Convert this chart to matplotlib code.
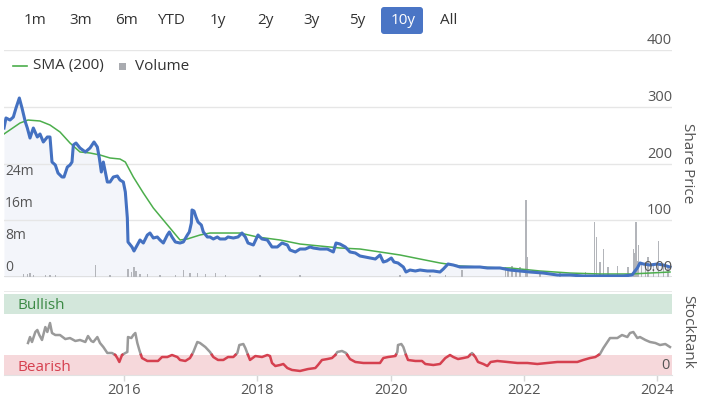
import numpy as np
import matplotlib
matplotlib.use("Agg")
import matplotlib.pyplot as plt
from matplotlib.patches import FancyBboxPatch, Rectangle
from matplotlib.lines import Line2D
from matplotlib.transforms import IdentityTransform, blended_transform_factory, offset_copy

plt.rcParams["font.family"] = ["Open Sans", "DejaVu Sans"]

# ---- data (decimal years) ----
price_years = [2014.20, 2014.23, 2014.29, 2014.34, 2014.38, 2014.43, 2014.47, 2014.52, 2014.55, 2014.59,
               2014.64, 2014.70, 2014.74, 2014.79, 2014.85, 2014.89, 2014.92, 2014.97, 2015.01, 2015.07,
               2015.10, 2015.15, 2015.19, 2015.22, 2015.24, 2015.28, 2015.34, 2015.42, 2015.49, 2015.55,
               2015.60, 2015.63, 2015.66, 2015.69, 2015.75, 2015.79, 2015.84, 2015.90, 2015.94, 2015.99,
               2016.02, 2016.05, 2016.06, 2016.12, 2016.15, 2016.20, 2016.24, 2016.29, 2016.35, 2016.39,
               2016.44, 2016.50, 2016.54, 2016.59, 2016.65, 2016.68, 2016.72, 2016.77, 2016.84, 2016.89,
               2016.95, 2016.98, 2017.01, 2017.02, 2017.05, 2017.08, 2017.11, 2017.16, 2017.19, 2017.25,
               2017.29, 2017.34, 2017.40, 2017.44, 2017.52, 2017.56, 2017.64, 2017.71, 2017.77, 2017.82,
               2017.86, 2017.94, 2018.01, 2018.07, 2018.15, 2018.22, 2018.30, 2018.37, 2018.45, 2018.49,
               2018.57, 2018.64, 2018.72, 2018.79, 2018.84, 2018.94, 2019.05, 2019.14, 2019.18, 2019.24,
               2019.32, 2019.39, 2019.47, 2019.54, 2019.62, 2019.69, 2019.77, 2019.84, 2019.89, 2019.94,
               2020.01, 2020.05, 2020.11, 2020.19, 2020.23, 2020.29, 2020.37, 2020.44, 2020.55, 2020.64,
               2020.74, 2020.79, 2020.86, 2020.94, 2021.04, 2021.15, 2021.24, 2021.34, 2021.45, 2021.54,
               2021.64, 2021.79, 2021.94, 2022.09, 2022.29, 2022.50, 2022.69, 2022.89, 2023.10, 2023.29,
               2023.49, 2023.62, 2023.70, 2023.74, 2023.79, 2023.89, 2024.00, 2024.09, 2024.19]
share_price = [262.5, 280.2, 276.6, 281.9, 297.8, 315.4, 297.8, 273.1, 262.5, 244.9,
               262.5, 246.7, 252.0, 237.9, 246.7, 246.7, 202.6, 197.3, 183.2, 176.2,
               176.2, 193.8, 197.3, 202.6, 232.6, 236.1, 227.3, 220.3, 227.3, 237.9,
               229.1, 209.7, 185.0, 202.6, 167.4, 167.4, 176.2, 178.0, 170.9, 167.4,
               149.8, 104.0, 61.7, 52.9, 45.8, 56.4, 65.2, 59.9, 74.0, 77.5,
               68.7, 70.5, 65.2, 59.9, 74.0, 79.3, 70.5, 61.7, 59.9, 61.7,
               74.0, 79.3, 95.1, 118.1, 116.3, 105.7, 96.9, 91.6, 79.3, 70.5,
               70.5, 67.0, 70.5, 67.0, 67.0, 70.5, 68.7, 70.5, 77.5, 70.5,
               59.9, 56.4, 74.0, 67.0, 65.2, 52.9, 52.9, 59.9, 56.4, 47.6,
               44.1, 49.3, 49.3, 52.9, 51.1, 49.3, 49.3, 44.1, 59.9, 58.1,
               52.9, 44.1, 42.3, 37.0, 35.2, 33.5, 31.7, 38.8, 26.4, 28.2,
               33.5, 26.4, 24.7, 17.6, 8.8, 12.3, 10.6, 12.3, 10.6, 10.6,
               8.8, 14.1, 22.9, 21.1, 17.6, 17.6, 17.6, 17.6, 15.9, 15.9,
               15.9, 12.3, 10.6, 8.8, 7.0, 3.5, 3.5, 1.8, 1.8, 1.8,
               1.8, 3.5, 15.9, 24.7, 22.9, 21.1, 22.9, 21.1, 17.6]

sma_years = [2014.20, 2014.44, 2014.56, 2014.74, 2014.89, 2015.04, 2015.19, 2015.34, 2015.49, 2015.64,
             2015.79, 2015.94, 2016.02, 2016.14, 2016.29, 2016.44, 2016.59, 2016.74, 2016.84, 2016.95,
             2017.14, 2017.29, 2017.74, 2018.00, 2018.34, 2018.64, 2018.94, 2019.24, 2019.54, 2019.84,
             2020.14, 2020.44, 2020.74, 2021.04, 2021.34, 2021.64, 2021.79, 2022.24, 2022.69, 2023.14,
             2023.59, 2023.89, 2024.19]
sma_200 = [252.0, 271.3, 276.6, 274.9, 267.8, 255.5, 236.1, 220.3, 218.5, 215.0,
           209.7, 207.9, 202.6, 176.2, 148.0, 121.6, 100.4, 79.3, 65.2, 67.0,
           74.0, 77.5, 77.5, 70.5, 65.2, 58.1, 54.6, 51.1, 49.3, 44.1,
           38.8, 31.7, 24.7, 19.4, 17.6, 15.9, 15.9, 10.6, 7.0, 5.3,
           5.3, 7.0, 8.8]

vol_years = [2014.49, 2014.55, 2014.59, 2014.64, 2014.82, 2014.89, 2014.97, 2015.57, 2015.79, 2016.06,
             2016.11, 2016.15, 2016.18, 2016.24, 2016.35, 2016.54, 2016.77, 2016.89, 2016.99, 2017.10,
             2017.22, 2017.37, 2017.52, 2018.04, 2018.64, 2020.14, 2020.59, 2020.82, 2021.07, 2021.72,
             2021.76, 2021.82, 2021.88, 2021.94, 2022.03, 2022.05, 2022.24, 2022.54, 2022.77, 2022.92,
             2023.06, 2023.09, 2023.14, 2023.19, 2023.26, 2023.40, 2023.56, 2023.64, 2023.65, 2023.68,
             2023.71, 2023.72, 2023.76, 2023.82, 2023.86, 2023.94, 2024.02, 2024.09, 2024.16]
volume_m = [0.8, 0.7, 1.0, 0.6, 0.5, 0.6, 0.5, 3.0, 0.6, 2.0,
            1.2, 2.5, 1.5, 0.8, 0.7, 0.6, 0.5, 1.7, 1.0, 1.0,
            0.8, 0.9, 0.6, 0.5, 0.4, 0.6, 0.5, 0.6, 1.8, 2.5,
            2.0, 2.8, 1.5, 2.5, 19.3, 5.0, 1.0, 1.0, 0.6, 1.2,
            13.7, 10.0, 3.7, 7.0, 2.5, 2.7, 2.5, 7.0, 6.0, 13.7,
            4.0, 8.0, 3.7, 3.7, 5.0, 3.5, 9.0, 3.0, 2.5]

rank_years = [2014.56, 2014.59, 2014.62, 2014.67, 2014.70, 2014.73, 2014.77, 2014.82, 2014.85, 2014.89,
              2014.92, 2014.97, 2015.04, 2015.12, 2015.19, 2015.27, 2015.34, 2015.42, 2015.46, 2015.51,
              2015.54, 2015.60, 2015.64, 2015.69, 2015.75, 2015.82, 2015.87, 2015.90, 2015.93, 2015.97,
              2016.02, 2016.05, 2016.06, 2016.11, 2016.14, 2016.17, 2016.20, 2016.23, 2016.27, 2016.35,
              2016.44, 2016.51, 2016.57, 2016.65, 2016.72, 2016.80, 2016.84, 2016.92, 2016.99, 2017.04,
              2017.10, 2017.14, 2017.22, 2017.29, 2017.34, 2017.41, 2017.49, 2017.56, 2017.64, 2017.70,
              2017.73, 2017.79, 2017.82, 2017.86, 2017.89, 2017.97, 2018.07, 2018.15, 2018.19, 2018.22,
              2018.27, 2018.34, 2018.39, 2018.45, 2018.52, 2018.64, 2018.76, 2018.87, 2018.91, 2018.97,
              2019.05, 2019.12, 2019.17, 2019.20, 2019.27, 2019.33, 2019.39, 2019.47, 2019.59, 2019.74,
              2019.84, 2019.89, 2019.96, 2020.07, 2020.10, 2020.11, 2020.16, 2020.19, 2020.23, 2020.26,
              2020.37, 2020.47, 2020.52, 2020.64, 2020.74, 2020.82, 2020.89, 2020.94, 2021.01, 2021.09,
              2021.16, 2021.22, 2021.27, 2021.31, 2021.39, 2021.45, 2021.50, 2021.60, 2021.75, 2021.90,
              2022.05, 2022.20, 2022.35, 2022.50, 2022.65, 2022.80, 2022.89, 2022.99, 2023.07, 2023.14,
              2023.19, 2023.25, 2023.29, 2023.40, 2023.47, 2023.55, 2023.59, 2023.64, 2023.70, 2023.74,
              2023.82, 2023.89, 2023.97, 2024.04, 2024.12, 2024.19]
stock_rank = [38.1, 45.2, 39.3, 51.2, 53.6, 47.6, 41.7, 57.1, 51.2, 61.9,
              50.0, 47.6, 47.6, 42.8, 44.0, 40.5, 41.7, 39.3, 46.4, 40.5,
              39.3, 45.2, 38.1, 33.3, 26.2, 26.2, 23.8, 20.2, 15.5, 23.8,
              26.2, 27.4, 45.2, 44.0, 47.6, 50.0, 38.1, 29.8, 20.2, 16.7,
              16.7, 16.7, 21.4, 21.4, 23.8, 21.4, 17.9, 16.7, 20.2, 27.4,
              39.3, 38.1, 33.3, 27.4, 21.4, 17.9, 17.9, 21.4, 21.4, 26.2,
              35.7, 36.9, 32.1, 23.8, 17.9, 22.6, 21.4, 23.8, 22.6, 14.3,
              10.7, 11.9, 13.1, 8.3, 6.0, 4.8, 7.1, 8.3, 11.9, 17.9,
              19.0, 20.2, 23.8, 27.4, 28.6, 26.2, 19.0, 15.5, 14.3, 14.3,
              14.3, 20.2, 21.4, 22.6, 27.4, 35.7, 36.9, 33.3, 23.8, 17.9,
              16.7, 16.7, 13.1, 11.9, 13.1, 20.2, 23.8, 21.4, 19.0, 20.2,
              21.4, 26.2, 21.4, 15.5, 13.1, 10.7, 15.5, 16.7, 15.5, 14.3,
              14.3, 13.1, 14.3, 15.5, 15.5, 15.5, 17.9, 20.2, 21.4, 25.0,
              32.1, 39.3, 44.0, 44.0, 47.6, 45.2, 50.0, 51.2, 44.0, 45.2,
              41.7, 39.3, 38.1, 35.7, 36.9, 33.3]

price_ticks = [100, 200, 300, 400]
price_tick_labels = ["100", "200", "300", "400"]
vol_ticks = [0, 8, 16, 24]
vol_tick_labels = ["0", "8m", "16m", "24m"]
year_ticks = [2016, 2018, 2020, 2022, 2024]
ranges = ["1m", "3m", "6m", "YTD", "1y", "2y", "3y", "5y", "10y", "All"]
BEARISH = (0, 24)
BULLISH = (73, 97)

# ---- colours ----
BLUE = "#4471c1"
GREEN = "#4cae4c"
GRID = "#e6e6e6"
TXT = "#555555"
RED = "#d5404f"
GRAY = "#9a9a9a"

W, H = 702, 399
fig = plt.figure(figsize=(W / 100, H / 100), dpi=100)
fig.patch.set_facecolor("white")


def rect(x0, y0, x1, y1):
    return [x0 / W, 1 - y1 / H, (x1 - x0) / W, (y1 - y0) / H]


def px_text(x, y, s, **kw):
    return fig.text(x / W, 1 - y / H, s, **kw)


XMIN, XMAX = 2014.2, 2024.22
top = rect(4, 50, 672, 277)
bottom = rect(4, 291, 672, 375)

ax_bg = fig.add_axes(top)
ax_vol = fig.add_axes(top)
ax_px = fig.add_axes(top)
for a in (ax_bg, ax_vol, ax_px):
    a.set_xlim(XMIN, XMAX)
    a.set_xticks([])
    a.set_yticks([])
    for s in a.spines.values():
        s.set_visible(False)
for a in (ax_vol, ax_px):
    a.patch.set_visible(False)

ax_bg.set_ylim(0, 400)
ax_px.set_ylim(0, 400)
ax_vol.set_ylim(0, 56.75)

for v in price_ticks:
    ax_bg.axhline(v, color=GRID, lw=1)
ax_bg.axhline(0, color="#dcdcdc", lw=1.2)
ax_bg.fill_between(price_years, share_price, 0, color="#f3f5fa", lw=0)

ax_vol.bar(vol_years, volume_m, width=0.02, color="#b3b5ba", lw=0)

ax_px.plot(sma_years, sma_200, color=GREEN, lw=1.1, zorder=2)
ax_px.plot(price_years, share_price, color=BLUE, lw=2.2, zorder=3,
           solid_joinstyle="round")

# price labels, right side, sitting above the grid lines
tr_p = offset_copy(blended_transform_factory(ax_px.transAxes, ax_px.transData),
                   fig=fig, x=0, y=2, units="dots")
for v, lab in zip(price_ticks, price_tick_labels):
    ax_px.text(1.0, v, lab, transform=tr_p, ha="right", va="bottom",
               fontsize=10.5, color=TXT)
ax_px.text(1.0, 0, "0.00", transform=tr_p, ha="right", va="bottom",
           fontsize=10.5, color=TXT, zorder=5)

# volume labels, left side
tr_v = offset_copy(blended_transform_factory(ax_vol.transAxes, ax_vol.transData),
                   fig=fig, x=1, y=2, units="dots")
for v, lab in zip(vol_ticks, vol_tick_labels):
    ax_vol.text(0.0, v, lab, transform=tr_v, ha="left", va="bottom",
                fontsize=10, color=TXT)

px_text(688, 163, "Share Price", rotation=270, ha="center", va="center",
        fontsize=11, color=TXT)

# ---- StockRank panel ----
ax_sr = fig.add_axes(bottom)
ax_sr.set_xlim(XMIN, XMAX)
ax_sr.set_ylim(0, 100)
ax_sr.axhspan(*BEARISH, color="#f6d8db", lw=0, zorder=0)
ax_sr.axhspan(*BULLISH, color="#d3e7db", lw=0, zorder=0)
ax_sr.axhline(100, color=GRID, lw=1.2)
for s in ax_sr.spines.values():
    s.set_visible(False)
ax_sr.spines["bottom"].set_visible(True)
ax_sr.spines["bottom"].set_color("#e2e2e2")
ax_sr.set_yticks([])
ax_sr.set_xticks(year_ticks)
ax_sr.set_xticklabels([str(y) for y in year_ticks])
ax_sr.tick_params(axis="x", length=4, width=1, color="#d6d6d6", pad=2,
                  labelsize=10.5, labelcolor=TXT)


def split_at(t, v, thr):
    tt, vv = [t[0]], [v[0]]
    for i in range(1, len(t)):
        a, b = v[i - 1], v[i]
        if (a - thr) * (b - thr) < 0:
            f = (thr - a) / (b - a)
            tt.append(t[i - 1] + f * (t[i] - t[i - 1]))
            vv.append(thr)
        tt.append(t[i])
        vv.append(b)
    return np.array(tt), np.array(vv)


thr = BEARISH[1]
rt, rv = split_at(rank_years, stock_rank, thr)
ax_sr.plot(rt, np.where(rv >= thr, rv, np.nan), color=GRAY, lw=1.8, zorder=3)
ax_sr.plot(rt, np.where(rv <= thr, rv, np.nan), color=RED, lw=1.8, zorder=3)

tr_sr = blended_transform_factory(ax_sr.transAxes, ax_sr.transData)
ax_sr.text(0.02, np.mean(BULLISH) - 2, "Bullish", transform=tr_sr,
           ha="left", va="center", fontsize=11, color="#3c8a45")
ax_sr.text(0.02, np.mean(BEARISH) - 3, "Bearish", transform=tr_sr,
           ha="left", va="center", fontsize=11, color=RED)
ax_sr.text(0.997, 0, "0", transform=offset_copy(tr_sr, fig=fig, x=0, y=2, units="dots"),
           ha="right", va="bottom", fontsize=10.5, color=TXT)

px_text(688, 332, "StockRank", rotation=270, ha="center", va="center",
        fontsize=11, color=TXT)

# ---- range selector ----
btn_x = [35, 81, 126, 171, 218, 265, 312, 357, 403, 449]
btn = FancyBboxPatch((381, H - 34), 42, 27, boxstyle="round,pad=0,rounding_size=3",
                     transform=IdentityTransform(), facecolor="#4a75c5", edgecolor="none")
fig.add_artist(btn)
for x, lab in zip(btn_x, ranges):
    px_text(x, 20, lab, ha="center", va="center", fontsize=11,
            color="white" if lab == "10y" else "#333333")

# ---- legend ----
fig.add_artist(Line2D([13 / W, 27 / W], [1 - 66 / H] * 2, color=GREEN, lw=1.2))
px_text(33, 66, "SMA (200)", ha="left", va="center", fontsize=11, color="#333333")
fig.add_artist(Rectangle((119, H - 70), 7, 7, transform=IdentityTransform(),
                         facecolor="#a9abb0", edgecolor="none"))
px_text(135, 66, "Volume", ha="left", va="center", fontsize=11, color="#333333")

fig.savefig("out.png", dpi=100, facecolor="white")
